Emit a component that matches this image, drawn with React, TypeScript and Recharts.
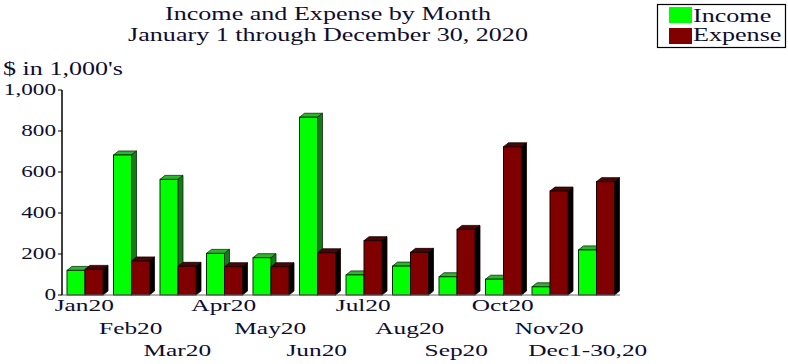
import { BarChart, Bar, XAxis, YAxis } from "recharts";

const months = [
  "Jan20", "Feb20", "Mar20", "Apr20", "May20", "Jun20",
  "Jul20", "Aug20", "Sep20", "Oct20", "Nov20", "Dec1-30,20",
];
const income = [120, 683, 564, 203, 182, 867, 98, 141, 89, 77, 40, 220];
const expense = [125, 166, 140, 138, 138, 206, 265, 208, 320, 723, 507, 553];
const yTicks = [0, 200, 400, 600, 800, 1000];

const data = months.map((m, i) => ({ month: m, income: income[i], expense: expense[i] }));

const FONT = "'Liberation Serif', 'Times New Roman', serif";
const INK = "#0d0d30";
const SX = 1.45; // the reference text is stretched sideways
const DX = 5;
const DY = 4;

function Bar3D(props: any) {
  const { x, y, width, height, fill, top, side, edge } = props;
  if (!height || height <= 0) return null;
  return (
    <g>
      <polygon
        points={`${x},${y} ${x + DX},${y - DY} ${x + width + DX},${y - DY} ${x + width},${y}`}
        fill={top}
        stroke={edge}
        strokeWidth={0.8}
      />
      <polygon
        points={`${x + width},${y} ${x + width + DX},${y - DY} ${x + width + DX},${y + height - DY} ${x + width},${y + height}`}
        fill={side}
        stroke={edge}
        strokeWidth={0.8}
      />
      <rect x={x} y={y} width={width} height={height} fill={fill} stroke={edge} strokeWidth={1} />
    </g>
  );
}

function MonthTick(props: any) {
  const { x, y, payload, index } = props;
  const row = index % 3;
  // the long last label sits a little left of its column in the reference
  const nudge = index === months.length - 1 ? -9 : -1;
  return (
    <text
      transform={`translate(${x + nudge},${y + 16 + row * 22.5}) scale(${SX},1)`}
      textAnchor="middle"
      fontFamily={FONT}
      fontSize={17.5}
      fill={INK}
    >
      {payload.value}
    </text>
  );
}

function ValueTick(props: any) {
  const { x, y, payload } = props;
  return (
    <text
      transform={`translate(${x},${y + 5}) scale(${SX},1)`}
      textAnchor="end"
      fontFamily={FONT}
      fontSize={16}
      fill={INK}
    >
      {payload.value.toLocaleString("en-US")}
    </text>
  );
}

function Txt({ x, y, size, anchor = "start", children }: any) {
  return (
    <text
      transform={`translate(${x},${y}) scale(${SX},1)`}
      textAnchor={anchor}
      fontFamily={FONT}
      fontSize={size}
      fill={INK}
    >
      {children}
    </text>
  );
}

export default function App() {
  return (
    <div style={{ position: "absolute", left: 0, top: 0, width: 788, height: 364, background: "#fff" }}>
      <BarChart
        width={788}
        height={364}
        data={data}
        margin={{ top: 90, right: 168, left: 0, bottom: 0 }}
        barGap={0}
        barSize={18}
      >
        <XAxis
          dataKey="month"
          interval={0}
          height={69}
          tickLine={false}
          tickSize={0}
          tickMargin={0}
          axisLine={{ stroke: "#666", strokeWidth: 1 }}
          tick={<MonthTick />}
        />
        <YAxis
          width={62}
          domain={[0, 1000]}
          ticks={yTicks}
          tickSize={4}
          tickLine={{ stroke: "#000" }}
          axisLine={{ stroke: "#000", strokeWidth: 1.5 }}
          tick={<ValueTick />}
        />
        <Bar
          dataKey="income"
          fill="#00ff00"
          isAnimationActive={false}
          shape={(p: any) => <Bar3D {...p} top="#29b829" side="#167a16" edge="#0a300a" />}
        />
        <Bar
          dataKey="expense"
          fill="#800000"
          isAnimationActive={false}
          shape={(p: any) => <Bar3D {...p} top="#4a0606" side="#000000" edge="#1a0000" />}
        />
      </BarChart>
      <svg
        width={788}
        height={364}
        style={{ position: "absolute", left: 0, top: 0, pointerEvents: "none" }}
      >
        <Txt x={328} y={20} size={18} anchor="middle">Income and Expense by Month</Txt>
        <Txt x={328} y={41} size={18} anchor="middle">January 1 through December 30, 2020</Txt>
        <Txt x={3} y={75} size={18}>$ in 1,000's</Txt>
        <rect x={657.5} y={4.5} width={128} height={43} fill="#fff" stroke="#000" strokeWidth={1.2} />
        <rect x={669} y={7} width={23} height={16} fill="#00ff00" />
        <rect x={669} y={28} width={23} height={16} fill="#800000" />
        <Txt x={693} y={22} size={18}>Income</Txt>
        <Txt x={693} y={41} size={18}>Expense</Txt>
      </svg>
    </div>
  );
}
